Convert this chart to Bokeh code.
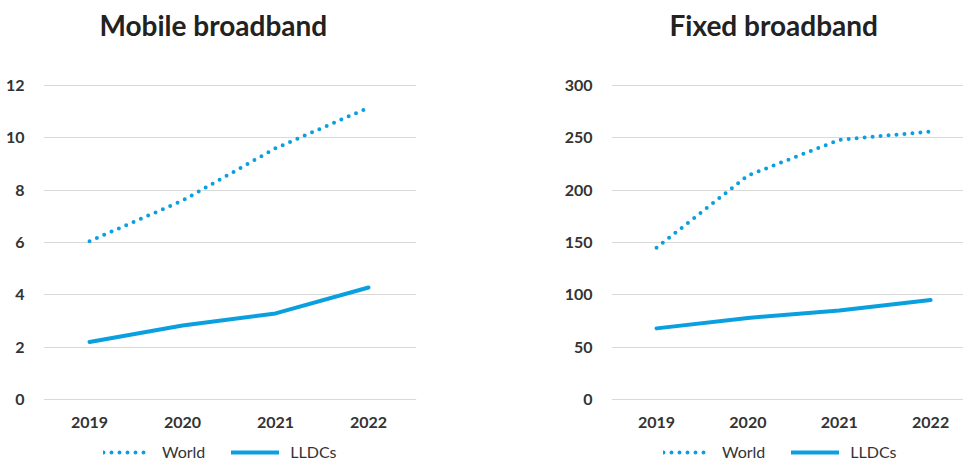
from bokeh.plotting import figure
from bokeh.layouts import row, column
from bokeh.models import Range1d, FixedTicker, Legend, LegendItem, ColumnDataSource
from bokeh.embed import file_html
from bokeh.resources import INLINE

years = ["2019", "2020", "2021", "2022"]
mobile_world = [6.05, 7.6, 9.6, 11.15]
mobile_lldcs = [2.2, 2.83, 3.29, 4.28]
fixed_world = [145, 214, 248, 256]
fixed_lldcs = [68, 78, 85, 95]
mobile_ticks = [0, 2, 4, 6, 8, 10, 12]
fixed_ticks = [0, 50, 100, 150, 200, 250, 300]

BLUE = "#0aa0e0"
FONT = "Lato"
WORLD_STYLE = dict(line_color=BLUE, line_width=4, line_dash="0 8", line_cap="round")
LLDC_STYLE = dict(line_color=BLUE, line_width=4, line_cap="round", line_join="round")


def strip(width, height):
    f = figure(width=width, height=height, output_backend="svg", toolbar_location=None,
               x_range=Range1d(0, 1), y_range=Range1d(0, 1),
               x_axis_type=None, y_axis_type=None,
               min_border_left=0, min_border_right=0, min_border_top=0, min_border_bottom=0)
    f.outline_line_color = None
    f.xgrid.grid_line_color = None
    f.ygrid.grid_line_color = None
    return f


def make_panel(title, world, lldcs, ticks, width, border_left, border_right,
               xr, title_offset, legend_x):
    xs = list(range(len(years)))
    pad = (ticks[-1] - ticks[0]) * 0.0125

    # title strip
    tf = strip(width, 47)
    tf.title.text = title
    tf.title.text_font = FONT
    tf.title.text_font_style = "bold"
    tf.title.text_font_size = "28px"
    tf.title.text_color = "#222222"
    tf.title.align = "left"
    tf.title.offset = title_offset
    tf.title.standoff = 10

    p = figure(width=width, height=384, output_backend="svg", toolbar_location=None,
               x_range=Range1d(*xr), y_range=Range1d(ticks[0] - pad, ticks[-1] + pad),
               min_border_left=border_left, min_border_right=border_right,
               min_border_top=34, min_border_bottom=28)
    p.outline_line_color = None
    p.background_fill_color = "white"
    p.border_fill_color = "white"

    src = ColumnDataSource(dict(x=xs, world=world, lldcs=lldcs))
    p.line("x", "world", source=src, **WORLD_STYLE)
    p.line("x", "lldcs", source=src, **LLDC_STYLE)

    p.xaxis.ticker = FixedTicker(ticks=xs)
    p.xaxis.major_label_overrides = {i: y for i, y in enumerate(years)}
    p.yaxis.ticker = FixedTicker(ticks=ticks)
    for ax in (p.xaxis[0], p.yaxis[0]):
        ax.axis_line_color = None
        ax.major_tick_line_color = None
        ax.minor_tick_line_color = None
        ax.major_label_text_font = FONT
        ax.major_label_text_font_style = "bold"
        ax.major_label_text_font_size = "16px"
        ax.major_label_text_color = "#333333"
    p.xaxis.major_label_standoff = 7
    p.yaxis.major_label_standoff = 13

    p.xgrid.grid_line_color = None
    p.ygrid.grid_line_color = "#d9d9d9"
    p.ygrid.grid_line_width = 1
    p.ygrid.ticker = FixedTicker(ticks=ticks)

    # legend strip below the chart (dummy renderers lie outside the strip's range)
    lf = strip(width, 30)
    r_world = lf.line(x=[-10, -9], y=[-10, -10], **WORLD_STYLE)
    r_lldcs = lf.line(x=[-10, -9], y=[-10, -10], **LLDC_STYLE)
    legend = Legend(items=[LegendItem(label="World", renderers=[r_world]),
                           LegendItem(label="LLDCs", renderers=[r_lldcs])],
                    orientation="horizontal", location=(legend_x, 0),
                    glyph_width=48, glyph_height=16, label_height=16,
                    label_standoff=11, spacing=26, padding=0, margin=0,
                    border_line_color=None, background_fill_alpha=0,
                    label_text_font=FONT, label_text_font_size="16px",
                    label_text_color="#333333")
    lf.add_layout(legend)
    return column(tf, p, lf, spacing=0)


left = make_panel("Mobile broadband", mobile_world, mobile_lldcs, mobile_ticks,
                  481, 43, 65, (-0.495, 3.516), 56, 60)
right = make_panel("Fixed broadband", fixed_world, fixed_lldcs, fixed_ticks,
                   482, 130, 0, (-0.493, 3.36), 58, 52)

layout = row(left, right, spacing=0)
open("out.html", "w").write(file_html(layout, INLINE))
